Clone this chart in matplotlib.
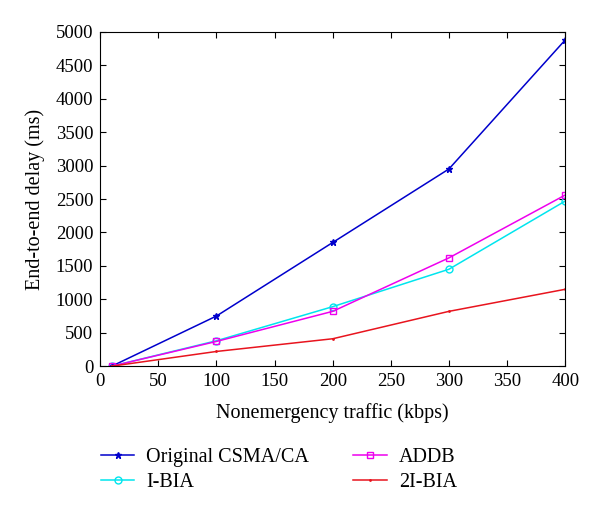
import matplotlib
matplotlib.use('Agg')
import matplotlib.pyplot as plt

plt.rcParams['font.family'] = ['Liberation Serif', 'DejaVu Serif']

traffic = [10, 100, 200, 300, 400]
csma = [0, 750, 1850, 2950, 4880]
ibia = [0, 380, 890, 1450, 2470]
addb = [0, 370, 820, 1620, 2560]
i2bia = [0, 220, 410, 820, 1150]

fig = plt.figure(figsize=(6, 5.15), dpi=100)
ax = fig.add_axes([0.167, 0.289, 0.775, 0.649])

ax.plot(traffic, csma, color='#0000cc', marker='*', markersize=5, lw=1.1, label='Original CSMA/CA')
ax.plot(traffic, ibia, color='#00e5ee', marker='o', markersize=5, mfc='none', lw=1.1, label='I-BIA')
ax.plot(traffic, addb, color='#ee00ee', marker='s', markersize=5, mfc='none', lw=1.1, label='ADDB')
ax.plot(traffic, i2bia, color='#e8141e', marker='.', markersize=2, lw=1.1, label='2I-BIA')

ax.set_xlim(0, 400)
ax.set_ylim(0, 5000)
ax.set_xticks(range(0, 401, 50))
ax.set_yticks(range(0, 5001, 500))
ax.tick_params(direction='in', top=True, right=True, labelsize=13.5, length=4, pad=5)
ax.set_xlabel('Nonemergency traffic (kbps)', fontsize=14.5, labelpad=9)
ax.set_ylabel('End-to-end delay (ms)', fontsize=14.5, labelpad=8)

fig.legend(loc='lower left', bbox_to_anchor=(0.138, 0.01), ncol=2, frameon=False,
           fontsize=14.5, handlelength=1.65, handletextpad=0.6, columnspacing=2.2,
           labelspacing=0.3)

fig.savefig('out.png', dpi=100)
